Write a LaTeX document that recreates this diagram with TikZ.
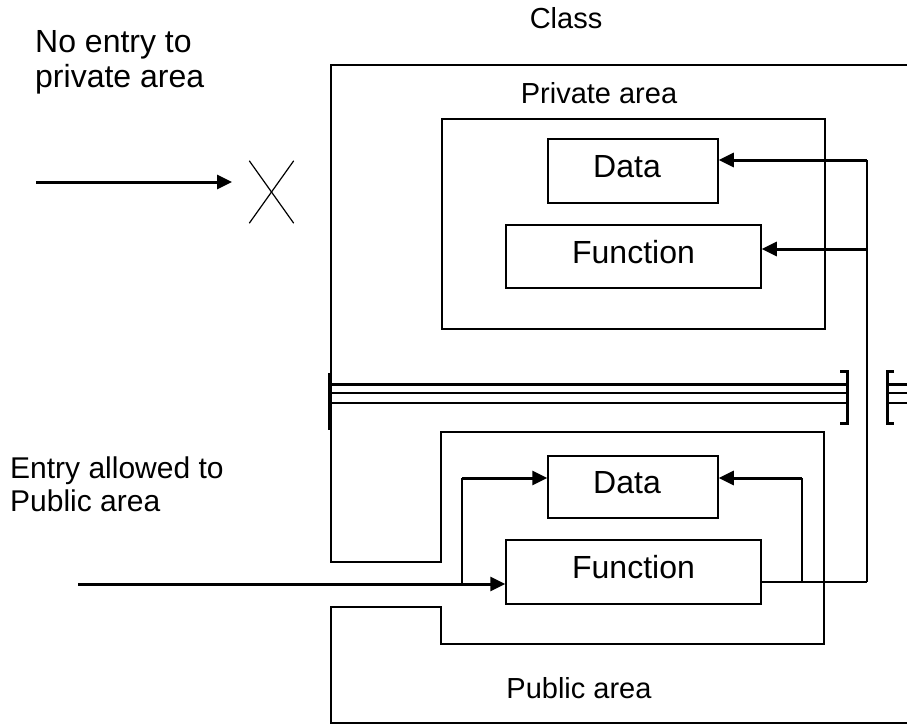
\documentclass[tikz,border=0pt]{standalone}
\usepackage{fontspec}
\setmainfont{Liberation Sans}
\usetikzlibrary{arrows.meta}
\begin{document}
\begin{tikzpicture}[x=1pt,y=-1pt,
  thinline/.style={line width=1.5pt},
  thickline/.style={line width=3pt},
  arr/.style={line width=3pt,-{Triangle[length=15pt,width=14pt]}},
  txt/.style={font=\fontsize{32}{35}\selectfont,inner sep=0pt},
  lbl/.style={font=\fontsize{29}{32}\selectfont,inner sep=0pt},
  box/.style={draw,line width=1.5pt,inner sep=0pt,text height=23pt,text depth=10pt,
    font=\fontsize{32}{35}\selectfont}
]
\fill[white] (0,0) rectangle (907,725);
\useasboundingbox (0,0) rectangle (907,725);

% labels
\node[lbl] (cls) at (566,18) {Class};
\node[lbl] (privlbl) at (599,93) {Private area};
\node[lbl] (publbl) at (579,688) {Public area};
\node[txt,anchor=west,align=left] (noentry) at (35,62) {No entry to\\private area};
\node[txt,anchor=west,align=left,font=\fontsize{30}{33}\selectfont] (entry) at (10,484) {Entry allowed to\\Public area};

% private area
\node[draw,line width=1.5pt,minimum width=383pt,minimum height=210pt,inner sep=0pt] (priv) at (633.5,224) {};
\node[box,minimum width=170pt,minimum height=64pt] (pd) at (633,171) {\hspace*{-12pt}Data};
\node[box,minimum width=255pt,minimum height=63pt] (pf) at (633.5,256.5) {Function};

% public area
\node[box,minimum width=170pt,minimum height=62pt] (ud) at (633,487) {\hspace*{-12pt}Data};
\node[box,minimum width=255pt,minimum height=64pt] (uf) at (633.5,572) {Function};

% outer class outline with entry gap, continuing into public area box
\draw[thinline] (907,65) -- (331,65) -- (331,562) -- (441,562) -- (441,432) -- (824,432)
  -- (824,644) -- (441,644) -- (441,607) -- (331,607) -- (331,723) -- (907,723);

% separator (wall)
\draw[thickline] (331,384) -- (847,384);
\draw[thinline] (331,393) -- (847,393);
\draw[thinline] (331,403) -- (847,403);
\draw[line width=4pt] (330,373) -- (330,430);
\draw[thickline] (840,371) -- (847,371) -- (847,423) -- (840,423);
\draw[thickline] (894,371) -- (887,371) -- (887,423) -- (894,423);
\draw[thickline] (887,384) -- (907,384);
\draw[thinline] (887,393) -- (907,393);
\draw[thinline] (887,403) -- (907,403);

% no-entry arrow and cross
\coordinate (nestart) at (36,182);
\coordinate (neend) at (232,182);
\draw[arr] (nestart) -- (neend);
\node[minimum width=44pt,minimum height=62pt,inner sep=0pt] (xmark) at (271.5,192) {};
\draw[line width=1.2pt] (xmark.north west) -- (xmark.south east);
\draw[line width=1.2pt] (xmark.north east) -- (xmark.south west);

% right bus to private members
\coordinate (bt) at (867,160);
\coordinate (bf) at (867,249);
\coordinate (bb) at (867,582);
\draw[thinline] (bt) -- (bb);
\draw[arr] (bt) -- (pd.east |- bt);
\draw[arr] (bf) -- (pf.east |- bf);
\draw[thinline] (uf.east |- bb) -- (bb);

% public function to public data
\coordinate (j3) at (802,478);
\coordinate (j4) at (802,582);
\draw[thinline] (j4) -- (j3);
\draw[arr] (j3) -- (ud.east |- j3);

% entry arrow
\coordinate (ent) at (78,584);
\coordinate (j1) at (462,584);
\coordinate (j2) at (462,478);
\draw[arr] (ent) -- (uf.west |- ent);
\draw[thinline] (j1) -- (j2);
\draw[arr] (j2) -- (ud.west |- j2);
\end{tikzpicture}
\end{document}
